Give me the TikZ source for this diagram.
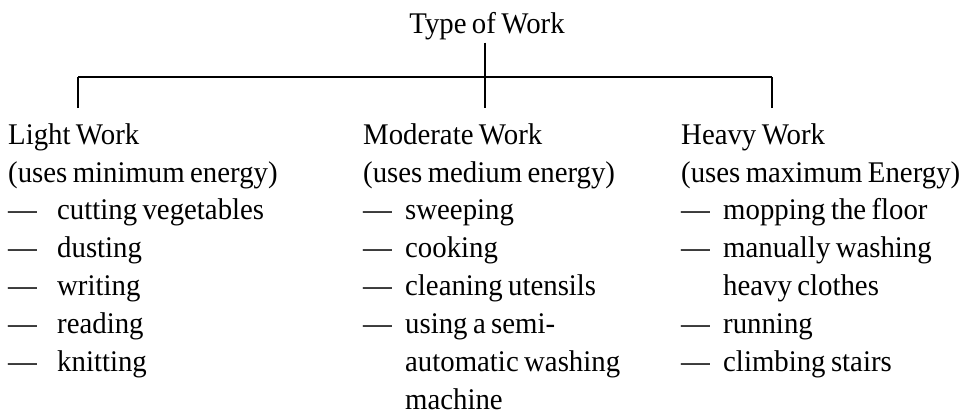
\documentclass[tikz,border=0pt]{standalone}
\usepackage{fontspec}
\setmainfont[FakeStretch=0.96, WordSpace=0.75]{Liberation Serif}
\usepackage{tikz}

\tikzset{
	txt/.style={inner sep=0pt, anchor=base west, font=\fontsize{30pt}{38pt}\selectfont},
	dashmark/.style={txt},
	branch/.style={line width=1.3pt},
	bar/.style={line width=1.7pt}
}

\begin{document}
\begin{tikzpicture}[x=1pt, y=-1pt]
\useasboundingbox (0,0) rectangle (969,415);

%root
\node[txt, anchor=base, inner sep=3pt] (type) at (487,33) {Type of Work};

%headings
\node[txt] (light) at (8,144) {Light Work};
\node[txt] (lightsub) at (8,182) {(uses minimum energy)};
\node[txt] (moderate) at (363,144) {Moderate Work};
\node[txt] (moderatesub) at (363,182) {(uses medium energy)};
\node[txt] (heavy) at (681,144) {Heavy Work};
\node[txt] (heavysub) at (681,182) {(uses maximum Energy)};

%tree
\coordinate (jn) at (485,77);
\coordinate (lightend) at (78,108);
\coordinate (moderateend) at (485,108);
\coordinate (heavyend) at (772,108);
\draw[bar] (lightend |- jn) -- (heavyend |- jn);
\draw[branch] (lightend) -- (lightend |- jn);
\draw[branch] (heavyend) -- (heavyend |- jn);
\draw[branch] (type.south -| jn) -- (moderateend);

%light work
\foreach \d/\t [count=\i] in {1/cutting vegetables, 1/dusting, 1/writing, 1/reading, 1/knitting}
{
	\node[txt] (l\i) at (57, 181+38*\i) {\t};
	\ifnum\d=1 \node[dashmark] (ld\i) at (8, 181+38*\i) {---}; \fi
}

%moderate work
\foreach \d/\t [count=\i] in {1/sweeping, 1/cooking, 1/cleaning utensils, 1/using a semi-, 0/automatic washing, 0/machine}
{
	\node[txt] (m\i) at (405, 181+38*\i) {\t};
	\ifnum\d=1 \node[dashmark] (md\i) at (363, 181+38*\i) {---}; \fi
}

%heavy work
\foreach \d/\t [count=\i] in {1/mopping the floor, 1/manually washing, 0/heavy clothes, 1/running, 1/climbing stairs}
{
	\node[txt] (h\i) at (723, 181+38*\i) {\t};
	\ifnum\d=1 \node[dashmark] (hd\i) at (681, 181+38*\i) {---}; \fi
}

\end{tikzpicture}
\end{document}
